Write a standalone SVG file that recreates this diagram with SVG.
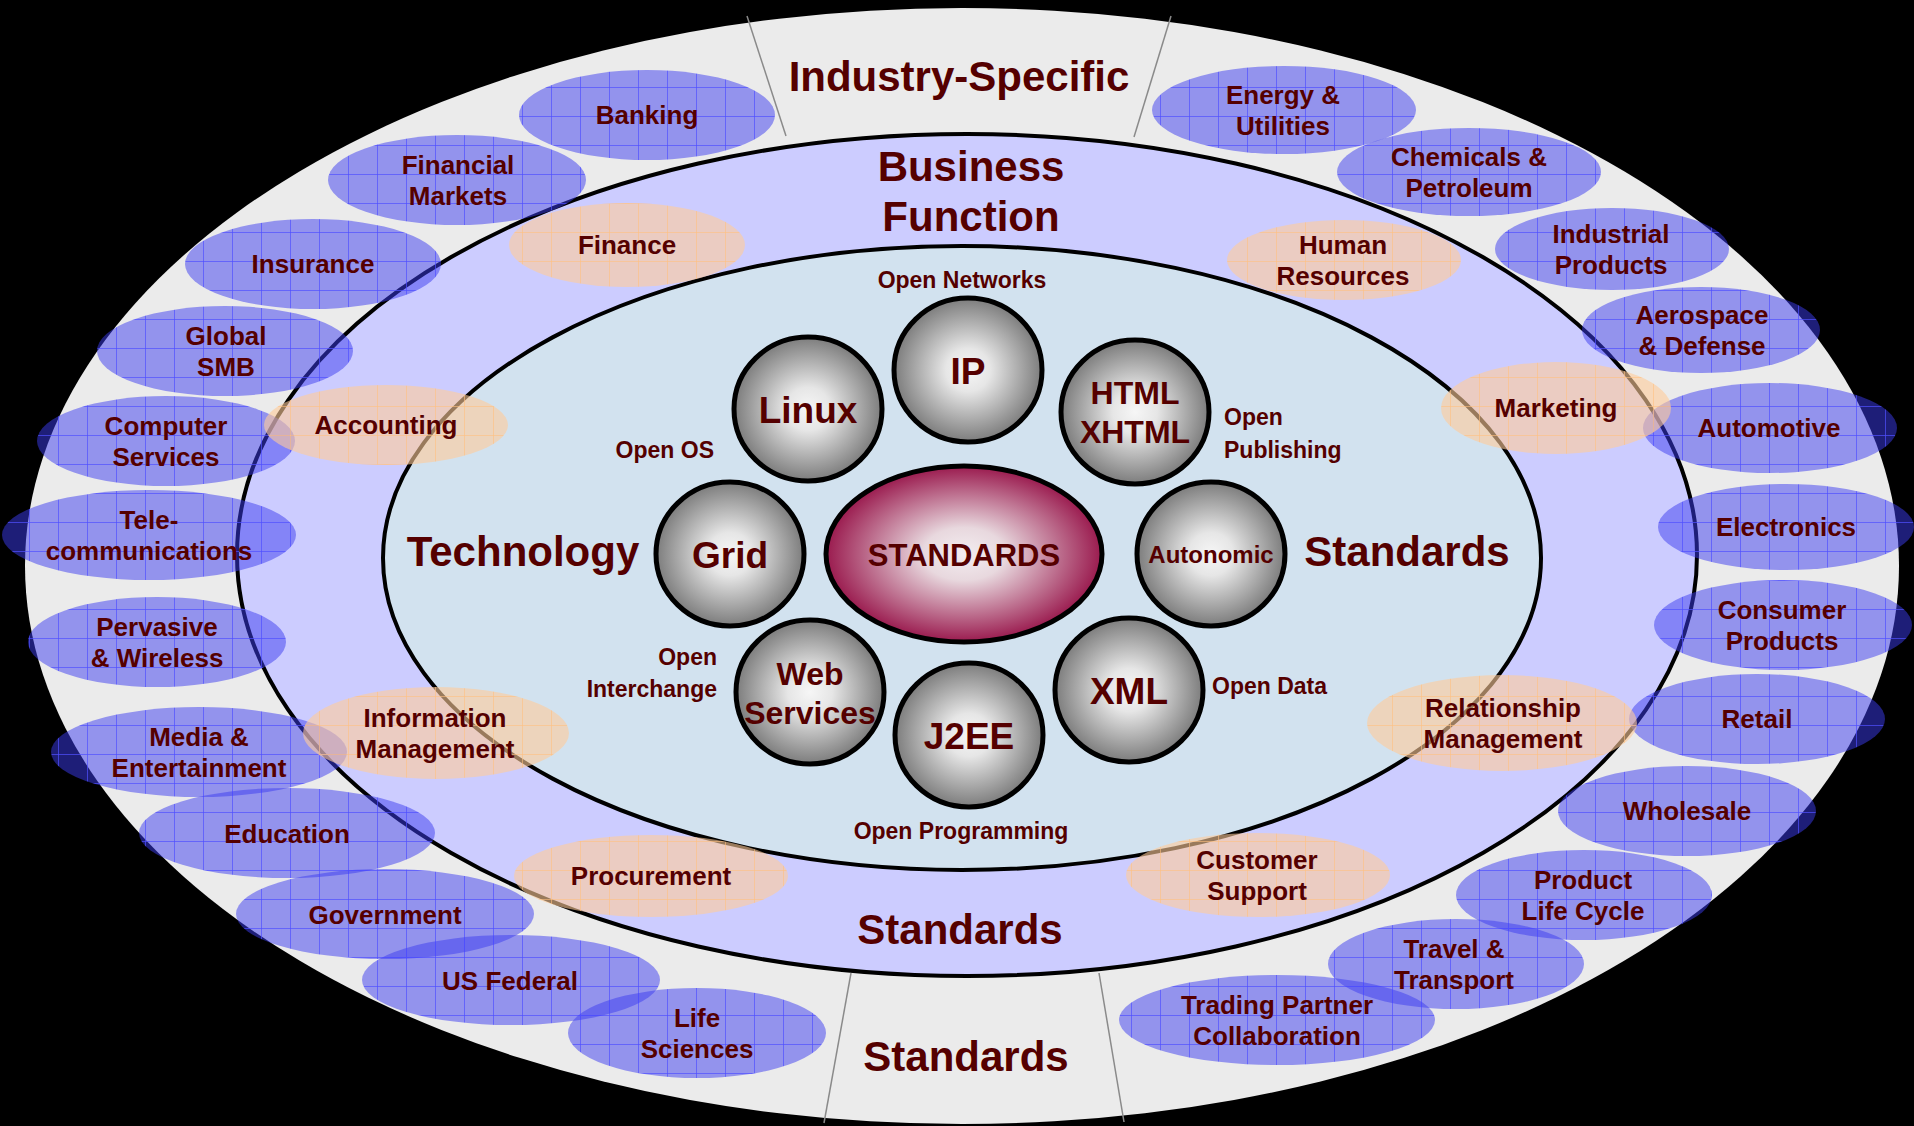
<svg xmlns="http://www.w3.org/2000/svg" width="1914" height="1126" viewBox="0 0 1914 1126">
<defs>
<pattern id="pb" patternUnits="userSpaceOnUse" width="29" height="29">
<rect width="29" height="29" fill="#3c3cf0" fill-opacity="0.5"/>
<path d="M0.5 0V29M0 0.5H29" stroke="#5050ff" stroke-width="1" stroke-opacity="0.7"/>
</pattern>
<pattern id="po" patternUnits="userSpaceOnUse" width="29" height="29">
<rect width="29" height="29" fill="#ffcc99" fill-opacity="0.6"/>
<path d="M0.5 0V29M0 0.5H29" stroke="#ffc080" stroke-width="1" stroke-opacity="0.6"/>
</pattern>
<radialGradient id="gball" cx="50%" cy="50%" r="50%">
<stop offset="0" stop-color="#f6f6f6"/>
<stop offset="0.3" stop-color="#e6e6e6"/>
<stop offset="1" stop-color="#7c7c7c"/>
</radialGradient>
<radialGradient id="gstd" cx="50%" cy="50%" r="50%">
<stop offset="0" stop-color="#f3edf0"/>
<stop offset="0.3" stop-color="#e8d8de"/>
<stop offset="1" stop-color="#9a1a4e"/>
</radialGradient>
<style>
text{font-family:"Liberation Sans",Arial,sans-serif;font-weight:bold;fill:#550000;text-anchor:middle}
.title{font-size:42px}
.lbl{font-size:26px}
.sm{font-size:23px}
.ball{fill:url(#gball);stroke:#000;stroke-width:5}
.bt{font-size:37px}
.bt2{font-size:32px}
.blue{fill:url(#pb)}
.org{fill:url(#po)}
.div{stroke:#8a8a8a;stroke-width:1.5}
</style>
</defs>
<rect width="1914" height="1126" fill="#000"/>
<g id="rings">
<ellipse cx="962" cy="566" rx="937" ry="558" fill="#ebebeb"/>
<ellipse cx="967" cy="555" rx="730" ry="421" fill="#ccccff" stroke="#000" stroke-width="4"/>
<ellipse cx="962" cy="558" rx="579" ry="312" fill="#d2e2ef" stroke="#000" stroke-width="4"/>
</g>
<g id="connectors">
<line class="div" x1="747" y1="16" x2="786" y2="136"/>
<line class="div" x1="1171" y1="16" x2="1134" y2="137"/>
<line class="div" x1="851" y1="973" x2="824" y2="1123"/>
<line class="div" x1="1099" y1="973" x2="1124" y2="1122"/>
</g>
<g id="titles">
<text class="title" x="959" y="91">Industry-Specific</text>
<text class="title" x="971" y="181">Business</text>
<text class="title" x="971" y="231">Function</text>
<text class="title" x="523" y="566">Technology</text>
<text class="title" x="1407" y="566">Standards</text>
<text class="title" x="960" y="944">Standards</text>
<text class="title" x="966" y="1071">Standards</text>
</g>
<g id="open-labels">
<text class="sm" x="962" y="288">Open Networks</text>
<text class="sm" x="714" y="458" style="text-anchor:end">Open OS</text>
<text class="sm" x="1224" y="425" style="text-anchor:start">Open</text>
<text class="sm" x="1224" y="458" style="text-anchor:start">Publishing</text>
<text class="sm" x="717" y="665" style="text-anchor:end">Open</text>
<text class="sm" x="717" y="697" style="text-anchor:end">Interchange</text>
<text class="sm" x="1212" y="694" style="text-anchor:start">Open Data</text>
<text class="sm" x="961" y="839">Open Programming</text>
</g>
<g id="n-standards"><ellipse cx="964" cy="554" rx="138" ry="88" fill="url(#gstd)" stroke="#000" stroke-width="5"/><text x="964" y="566" style="font-size:31px">STANDARDS</text></g>
<g id="n-ip"><ellipse class="ball" cx="968" cy="370" rx="74" ry="72"/><text class="bt" x="968" y="384">IP</text></g>
<g id="n-linux"><ellipse class="ball" cx="808" cy="409" rx="74" ry="72"/><text class="bt" x="808" y="423">Linux</text></g>
<g id="n-html"><ellipse class="ball" cx="1135" cy="412" rx="74" ry="72"/><text class="bt2" x="1135" y="404">HTML</text><text class="bt2" x="1135" y="443">XHTML</text></g>
<g id="n-grid"><ellipse class="ball" cx="730" cy="554" rx="74" ry="72"/><text class="bt" x="730" y="568">Grid</text></g>
<g id="n-autonomic"><ellipse class="ball" cx="1211" cy="554" rx="74" ry="72"/><text x="1211" y="563" style="font-size:24px">Autonomic</text></g>
<g id="n-web"><ellipse class="ball" cx="810" cy="692" rx="74" ry="72"/><text class="bt2" x="810" y="685">Web</text><text class="bt2" x="810" y="724">Services</text></g>
<g id="n-j2ee"><ellipse class="ball" cx="969" cy="735" rx="74" ry="72"/><text class="bt" x="969" y="749">J2EE</text></g>
<g id="n-xml"><ellipse class="ball" cx="1129" cy="690" rx="74" ry="72"/><text class="bt" x="1129" y="704">XML</text></g>
<g id="n-banking"><ellipse class="blue" cx="647" cy="115" rx="128" ry="45"/><text class="lbl" x="647" y="124">Banking</text></g>
<g id="n-financial"><ellipse class="blue" cx="457" cy="180" rx="129" ry="45"/><text class="lbl" x="458" y="174">Financial</text><text class="lbl" x="458" y="205">Markets</text></g>
<g id="n-insurance"><ellipse class="blue" cx="313" cy="264" rx="128" ry="45"/><text class="lbl" x="313" y="273">Insurance</text></g>
<g id="n-globalsmb"><ellipse class="blue" cx="225" cy="351" rx="128" ry="45"/><text class="lbl" x="226" y="345">Global</text><text class="lbl" x="226" y="376">SMB</text></g>
<g id="n-computer"><ellipse class="blue" cx="166" cy="441" rx="129" ry="45"/><text class="lbl" x="166" y="435">Computer</text><text class="lbl" x="166" y="466">Services</text></g>
<g id="n-telecom"><ellipse class="blue" cx="149" cy="535" rx="147" ry="45"/><text class="lbl" x="149" y="529">Tele-</text><text class="lbl" x="149" y="560">communications</text></g>
<g id="n-pervasive"><ellipse class="blue" cx="157" cy="642" rx="129" ry="45"/><text class="lbl" x="157" y="636">Pervasive</text><text class="lbl" x="157" y="667">&amp; Wireless</text></g>
<g id="n-media"><ellipse class="blue" cx="199" cy="752" rx="148" ry="45"/><text class="lbl" x="199" y="746">Media &amp;</text><text class="lbl" x="199" y="777">Entertainment</text></g>
<g id="n-education"><ellipse class="blue" cx="287" cy="833" rx="148" ry="45"/><text class="lbl" x="287" y="843">Education</text></g>
<g id="n-government"><ellipse class="blue" cx="385" cy="914" rx="149" ry="45"/><text class="lbl" x="385" y="924">Government</text></g>
<g id="n-usfederal"><ellipse class="blue" cx="511" cy="980" rx="149" ry="45"/><text class="lbl" x="510" y="990">US Federal</text></g>
<g id="n-life"><ellipse class="blue" cx="697" cy="1033" rx="129" ry="45"/><text class="lbl" x="697" y="1027">Life</text><text class="lbl" x="697" y="1058">Sciences</text></g>
<g id="n-energy"><ellipse class="blue" cx="1284" cy="110" rx="132" ry="44"/><text class="lbl" x="1283" y="104">Energy &amp;</text><text class="lbl" x="1283" y="135">Utilities</text></g>
<g id="n-chemicals"><ellipse class="blue" cx="1469" cy="172" rx="132" ry="44"/><text class="lbl" x="1469" y="166">Chemicals &amp;</text><text class="lbl" x="1469" y="197">Petroleum</text></g>
<g id="n-industrial"><ellipse class="blue" cx="1612" cy="249" rx="117" ry="41"/><text class="lbl" x="1611" y="243">Industrial</text><text class="lbl" x="1611" y="274">Products</text></g>
<g id="n-aerospace"><ellipse class="blue" cx="1701" cy="330" rx="119" ry="43"/><text class="lbl" x="1702" y="324">Aerospace</text><text class="lbl" x="1702" y="355">&amp; Defense</text></g>
<g id="n-automotive"><ellipse class="blue" cx="1770" cy="428" rx="127" ry="45"/><text class="lbl" x="1769" y="437">Automotive</text></g>
<g id="n-electronics"><ellipse class="blue" cx="1786" cy="527" rx="128" ry="43"/><text class="lbl" x="1786" y="536">Electronics</text></g>
<g id="n-consumer"><ellipse class="blue" cx="1783" cy="625" rx="129" ry="45"/><text class="lbl" x="1782" y="619">Consumer</text><text class="lbl" x="1782" y="650">Products</text></g>
<g id="n-retail"><ellipse class="blue" cx="1757" cy="719" rx="128" ry="45"/><text class="lbl" x="1757" y="728">Retail</text></g>
<g id="n-wholesale"><ellipse class="blue" cx="1687" cy="811" rx="129" ry="45"/><text class="lbl" x="1687" y="820">Wholesale</text></g>
<g id="n-product"><ellipse class="blue" cx="1584" cy="895" rx="128" ry="45"/><text class="lbl" x="1583" y="889">Product</text><text class="lbl" x="1583" y="920">Life Cycle</text></g>
<g id="n-travel"><ellipse class="blue" cx="1456" cy="964" rx="128" ry="45"/><text class="lbl" x="1454" y="958">Travel &amp;</text><text class="lbl" x="1454" y="989">Transport</text></g>
<g id="n-trading"><ellipse class="blue" cx="1277" cy="1020" rx="158" ry="45"/><text class="lbl" x="1277" y="1014">Trading Partner</text><text class="lbl" x="1277" y="1045">Collaboration</text></g>
<g id="n-finance"><ellipse class="org" cx="627" cy="245" rx="118" ry="42"/><text class="lbl" x="627" y="254">Finance</text></g>
<g id="n-accounting"><ellipse class="org" cx="386" cy="425" rx="122" ry="40"/><text class="lbl" x="386" y="434">Accounting</text></g>
<g id="n-information"><ellipse class="org" cx="436" cy="733" rx="133" ry="46"/><text class="lbl" x="435" y="727">Information</text><text class="lbl" x="435" y="758">Management</text></g>
<g id="n-procurement"><ellipse class="org" cx="651" cy="876" rx="137" ry="41"/><text class="lbl" x="651" y="885">Procurement</text></g>
<g id="n-human"><ellipse class="org" cx="1344" cy="260" rx="117" ry="40"/><text class="lbl" x="1343" y="254">Human</text><text class="lbl" x="1343" y="285">Resources</text></g>
<g id="n-marketing"><ellipse class="org" cx="1556" cy="408" rx="115" ry="46"/><text class="lbl" x="1556" y="417">Marketing</text></g>
<g id="n-relationship"><ellipse class="org" cx="1502" cy="723" rx="135" ry="48"/><text class="lbl" x="1503" y="717">Relationship</text><text class="lbl" x="1503" y="748">Management</text></g>
<g id="n-customer"><ellipse class="org" cx="1258" cy="875" rx="132" ry="42"/><text class="lbl" x="1257" y="869">Customer</text><text class="lbl" x="1257" y="900">Support</text></g>
</svg>
